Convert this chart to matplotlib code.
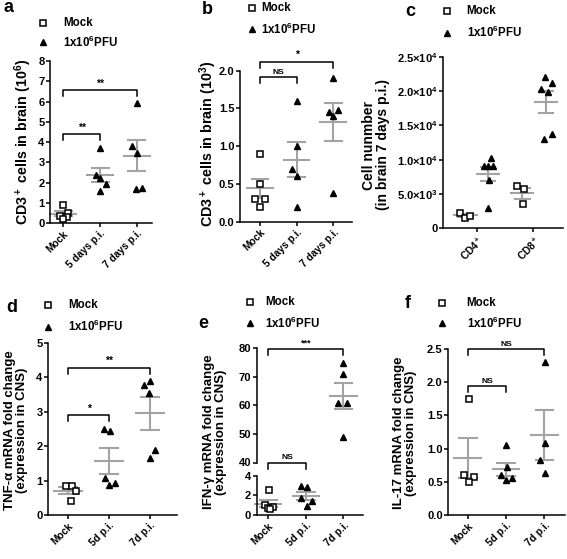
import numpy as np
import matplotlib
matplotlib.use('Agg')
from matplotlib import pyplot
from matplotlib.lines import Line2D

pyplot.rcParams['font.family'] = 'Liberation Sans'
pyplot.rcParams['font.weight'] = 'bold'
pyplot.rcParams['mathtext.fontset'] = 'custom'
pyplot.rcParams['mathtext.rm'] = 'Liberation Sans:bold'
pyplot.rcParams['mathtext.it'] = 'Liberation Sans:bold:italic'
pyplot.rcParams['mathtext.bf'] = 'Liberation Sans:bold'
pyplot.rcParams['mathtext.default'] = 'rm'

W, H = 567, 559
GREY = '#a3a3a3'

# ---------------- data ----------------
days_labels = ['Mock', '5 days p.i.', '7 days p.i.']
d_labels = ['Mock', '5d p.i.', '7d p.i.']
cell_labels = ['CD4$^+$', 'CD8$^+$']

# a: CD3+ cells in brain (10^6)
a_mock = [0.9, 0.5, 0.35, 0.3, 0.2]
a_5d = [3.7, 2.35, 2.2, 1.95, 1.6]
a_7d = [5.95, 3.8, 3.45, 1.7, 1.75]
# b: CD3+ cells in brain (10^3)
b_mock = [0.9, 0.5, 0.3, 0.3, 0.2]
b_5d = [1.6, 1.0, 0.7, 0.6, 0.2]
b_7d = [1.9, 1.45, 1.4, 1.48, 0.38]
# c: cell number, 7 days p.i.
c_cd4_mock = [2300, 1550, 1800]
c_cd4_pfu = [9100, 9100, 9100, 10200, 7000, 3000]
c_cd8_mock = [6150, 5700, 3550]
c_cd8_pfu = [22100, 21100, 20250, 19900, 12970, 13740]
# d: TNF-a
d_mock = [0.85, 0.85, 0.7, 0.42]
d_5d = [2.49, 2.45, 1.08, 0.88, 0.92]
d_7d = [3.78, 3.88, 3.55, 1.88, 1.64]
# e: IFN-g
e_mock = [2.5, 1.0, 0.8, 0.7, 0.6]
e_5d = [2.9, 2.8, 1.7, 1.45, 0.9]
e_7d = [75, 71, 61, 61, 49]
# f: IL-17
f_mock = [1.75, 0.6, 0.57, 0.5]
f_5d = [1.05, 0.73, 0.6, 0.52, 0.55]
f_7d = [2.3, 1.08, 0.83, 0.63]

# scatter jitter (x offsets in category units)
jit_a = [[0, 0.12, -0.1, 0.1, 0], [0, -0.12, 0, 0.15, 0], [0, -0.12, 0, -0.02, 0.15]]
jit_b = [[0, 0, -0.13, 0.13, 0], [0, 0, -0.13, 0, 0], [0, -0.13, 0, 0.13, 0]]
jit_c = [[-0.09, 0.0, 0.08], [-0.08, 0.0, 0.09, 0.05, 0.02, 0.0],
         [-0.09, 0.03, 0.01], [-0.01, 0.11, -0.09, 0.03, -0.03, 0.11]]
jit_d = [[-0.06, 0.1, 0.2, 0.06], [-0.12, 0.02, -0.11, 0, 0.15], [-0.15, 0, -0.02, 0.12, 0]]
jit_e = [[0.03, -0.1, 0.12, 0.0, 0.05], [-0.13, 0.04, -0.12, 0.15, 0.04], [0, 0, -0.14, 0.09, 0]]
jit_f = [[0.03, -0.11, 0.17, 0.03], [0, 0.03, -0.12, 0.01, 0.16], [0.02, 0.02, -0.11, 0.02]]


def box(x0, y0, x1, y1):
    return [x0 / W, 1 - y1 / H, (x1 - x0) / W, (y1 - y0) / H]


def style(ax, bottom=True):
    for s in ['top', 'right']:
        ax.spines[s].set_visible(False)
    for s in ['left', 'bottom']:
        ax.spines[s].set_linewidth(1.1)
    if not bottom:
        ax.spines['bottom'].set_visible(False)
        ax.tick_params(axis='x', bottom=False, labelbottom=False)
    ax.tick_params(axis='both', direction='out', length=3, width=1.1, pad=1, labelsize=8)


def group(ax, x, vals, jit, marker, mw=0.35, cw=0.23):
    vals = np.array(vals, dtype=float)
    m = vals.mean()
    sem = vals.std(ddof=1) / np.sqrt(len(vals))
    ax.plot([x - mw, x + mw], [m, m], color=GREY, lw=1.5, zorder=2, clip_on=False)
    ax.plot([x - cw, x + cw], [m + sem, m + sem], color=GREY, lw=1.5, zorder=2, clip_on=False)
    ax.plot([x - cw, x + cw], [m - sem, m - sem], color=GREY, lw=1.5, zorder=2, clip_on=False)
    ax.plot([x, x], [m - sem, m + sem], color=GREY, lw=1.5, zorder=2, clip_on=False)
    if marker == 's':
        ax.plot(x + np.array(jit), vals, 's', ms=4.7, mfc='white', mec='black', mew=1.1,
                ls='none', zorder=3, clip_on=False)
    else:
        ax.plot(x + np.array(jit), vals, '^', ms=4.8, color='black', ls='none', zorder=3,
                clip_on=False)


def bracket(ax, x0, x1, y, text, fs=7.5, drop_px=6):
    y0, y1 = ax.get_ylim()
    h = ax.get_position().height * H
    d = drop_px / h * (y1 - y0)
    ax.plot([x0, x0, x1, x1], [y - d, y, y, y - d], color='black', lw=1.1, clip_on=False)
    ax.annotate(text, ((x0 + x1) / 2, y), xytext=(0, 1), textcoords='offset points',
                ha='center', va='bottom', fontsize=fs, annotation_clip=False)


def legend(x, y1, y2, tx):
    fig.add_artist(Line2D([x / W], [1 - y1 / H], marker='s', ms=4.3, mfc='white', mec='black',
                          mew=1.1, transform=fig.transFigure))
    fig.add_artist(Line2D([x / W], [1 - y2 / H], marker='^', ms=4.3, color='black',
                          transform=fig.transFigure))
    fig.text(tx / W, 1 - y1 / H, 'Mock', fontsize=8.3, va='center', ha='left')
    fig.text(tx / W, 1 - y2 / H, '1x10$^6$PFU', fontsize=8.3, va='center', ha='left')


def xlabels(ax, labels, fs=7.3):
    ax.set_xticks(range(len(labels)))
    ax.set_xticklabels(labels, rotation=45, ha='right', rotation_mode='anchor', fontsize=fs)


def ylab(x, y, text, fs=9.5):
    fig.text(x / W, 1 - y / H, text, rotation=90, ha='center', va='center', fontsize=fs,
             linespacing=1.0)


fig = pyplot.figure(figsize=(5.67, 5.59), dpi=100)

# ---- a ----
ax = fig.add_axes(box(50, 61, 151.6, 223))
style(ax)
ax.set_xlim(-0.36, 2.4)
ax.set_ylim(0, 8)
ax.set_yticks(range(0, 9))
for i, (v, mk) in enumerate(zip([a_mock, a_5d, a_7d], ['s', '^', '^'])):
    group(ax, i, v, jit_a[i], mk)
xlabels(ax, days_labels)
bracket(ax, 0, 1, 4.38, '**')
bracket(ax, 0, 2, 6.58, '**')
ylab(23, 142, 'CD3$^+$ cells in brain (10$^6$)', fs=10.3)
legend(43, 23, 42, 63)
fig.text(8 / W, 1 - 7 / H, 'a', fontsize=13, ha='center', va='center')

# ---- b ----
ax = fig.add_axes(box(240, 70.7, 352, 221.7))
style(ax)
ax.set_xlim(-0.545, 2.51)
ax.set_ylim(0, 2.0)
ax.set_yticks([0, 0.5, 1.0, 1.5, 2.0])
ax.set_yticklabels(['0.0', '0.5', '1.0', '1.5', '2.0'])
for i, (v, mk) in enumerate(zip([b_mock, b_5d, b_7d], ['s', '^', '^'])):
    group(ax, i, v, jit_b[i], mk)
xlabels(ax, days_labels)
bracket(ax, 0, 1, 1.91, 'NS', fs=6)
bracket(ax, 0, 2, 2.12, '*')
ylab(208, 144, 'CD3$^+$ cells in brain (10$^3$)', fs=10.3)
legend(252, 8, 29, 261)
fig.text(207 / W, 1 - 9 / H, 'b', fontsize=13, ha='center', va='center')

# ---- c ----
ax = fig.add_axes(box(443, 56.7, 563, 228.3))
style(ax)
ax.set_xlim(-0.595, 1.52)
ax.set_ylim(0, 25000)
ax.set_yticks([0, 5000, 10000, 15000, 20000, 25000])
ax.set_yticklabels(['0', '5.0×10$^3$', '1.0×10$^4$', '1.5×10$^4$', '2.0×10$^4$', '2.5×10$^4$'])
c_groups = [c_cd4_mock, c_cd4_pfu, c_cd8_mock, c_cd8_pfu]
c_pos = [-0.2, 0.2, 0.8, 1.22]
for i, v in enumerate(c_groups):
    group(ax, c_pos[i], v, jit_c[i], 's' if i % 2 == 0 else '^', mw=0.2, cw=0.13)
xlabels(ax, cell_labels)
ylab(376, 145, 'Cell nunmber\n(in brain 7 days p.i.)', fs=10)
legend(446.7, 11, 32.7, 466.7)
fig.text(410 / W, 1 - 11 / H, 'c', fontsize=13, ha='center', va='center')

# ---- d ----
ax = fig.add_axes(box(48, 342.7, 177, 515))
style(ax)
ax.set_xlim(-0.49, 2.66)
ax.set_ylim(0, 5)
ax.set_yticks(range(0, 6))
for i, (v, mk) in enumerate(zip([d_mock, d_5d, d_7d], ['s', '^', '^'])):
    group(ax, i, v, jit_d[i], mk)
xlabels(ax, d_labels)
bracket(ax, 0, 1, 2.9, '*')
bracket(ax, 0, 2, 4.28, '**')
ylab(16, 430, 'TNF-α mRNA fold change\n(expression in CNS)')
legend(48.3, 305, 326.7, 68.3)
fig.text(12 / W, 1 - 308 / H, 'd', fontsize=13, ha='center', va='center')

# ---- e (broken axis) ----
ax_top = fig.add_axes(box(256.7, 348.3, 363, 462.5))
ax_bot = fig.add_axes(box(256.7, 475.5, 363, 515))
style(ax_top, bottom=False)
style(ax_bot)
for axx in [ax_top, ax_bot]:
    axx.set_xlim(-0.31, 2.52)
ax_top.set_ylim(40, 80)
ax_top.set_yticks([40, 50, 60, 70, 80])
ax_bot.set_ylim(0, 4)
ax_bot.set_yticks([0, 2, 4])
group(ax_bot, 0, e_mock, jit_e[0], 's')
group(ax_bot, 1, e_5d, jit_e[1], '^')
group(ax_top, 2, e_7d, jit_e[2], '^')
xlabels(ax_bot, d_labels)
bracket(ax_top, 0, 2, 79.7, '***', fs=6.5)
bracket(ax_bot, 0, 1, 5.3, 'NS', fs=6)
ylab(215, 432, 'IFN-γ mRNA fold change\n(expression in CNS)')
legend(250, 302.3, 323.3, 265)
fig.text(203 / W, 1 - 323 / H, 'e', fontsize=13, ha='center', va='center')

# ---- f ----
ax = fig.add_axes(box(448.3, 349, 565, 515))
style(ax)
ax.set_xlim(-0.51, 2.54)
ax.set_ylim(0, 2.5)
ax.set_yticks([0, 0.5, 1.0, 1.5, 2.0, 2.5])
ax.set_yticklabels(['0.0', '0.5', '1.0', '1.5', '2.0', '2.5'])
for i, (v, mk) in enumerate(zip([f_mock, f_5d, f_7d], ['s', '^', '^'])):
    group(ax, i, v, jit_f[i], mk)
xlabels(ax, d_labels)
bracket(ax, 0, 1, 1.94, 'NS', fs=6)
bracket(ax, 0, 2, 2.5, 'NS', fs=6)
ylab(405, 433, 'IL-17 mRNA fold change\n(expression in CNS)')
legend(441.7, 302.7, 323.3, 466.7)
fig.text(408 / W, 1 - 303 / H, 'f', fontsize=13, ha='center', va='center')

fig.savefig('out.png', dpi=100)
